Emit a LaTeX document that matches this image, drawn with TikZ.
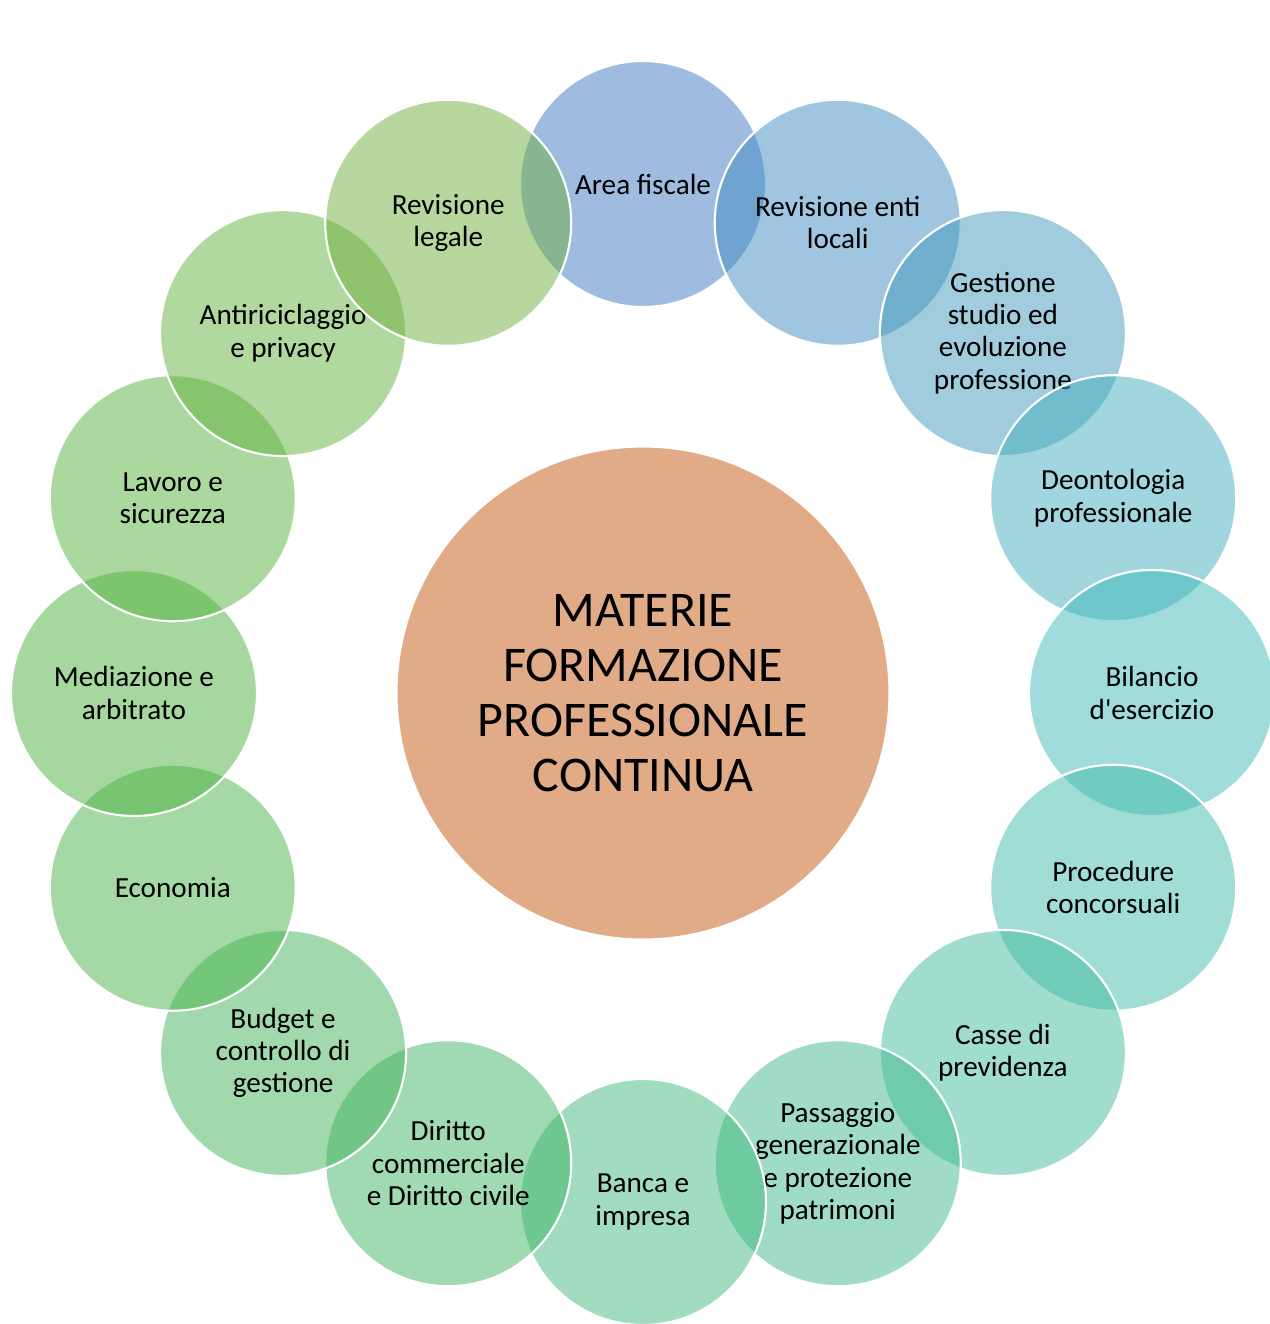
\documentclass[tikz,border=0pt]{standalone}
\usepackage{fontspec}
\setmainfont{Carlito}

\definecolor{centro}{RGB}{225,171,136}
\definecolor{col1}{RGB}{63,121,193}
\definecolor{col2}{RGB}{65,139,193}
\definecolor{col3}{RGB}{65,153,187}
\definecolor{col4}{RGB}{67,173,189}
\definecolor{col5}{RGB}{65,185,185}
\definecolor{col6}{RGB}{65,187,171}
\definecolor{col7}{RGB}{65,187,157}
\definecolor{col8}{RGB}{65,185,139}
\definecolor{col9}{RGB}{65,185,123}
\definecolor{col10}{RGB}{65,181,103}
\definecolor{col11}{RGB}{67,179,89}
\definecolor{col12}{RGB}{73,179,75}
\definecolor{col13}{RGB}{75,175,63}
\definecolor{col14}{RGB}{85,177,61}
\definecolor{col15}{RGB}{99,177,63}
\definecolor{col16}{RGB}{113,175,63}

\tikzset{
  materia/.style={circle,draw=white,line width=0.6pt,fill opacity=0.5,text opacity=1,
    minimum size=2.46cm,inner sep=0pt,align=center,font=\fontsize{8.3}{9.2}\selectfont},
  centrale/.style={circle,draw=white,line width=0.6pt,fill=centro,
    minimum size=4.93cm,inner sep=0pt,align=center,font=\fontsize{14.2}{15.6}\selectfont}
}

\begin{document}
\begin{tikzpicture}

      \useasboundingbox (-6.43,-6.31) rectangle (6.27,6.93);

      \node[centrale] (centro) at (0,0) {MATERIE\\FORMAZIONE\\PROFESSIONALE\\CONTINUA};

      \begin{scope}[every node/.style={materia}]
        \foreach \n/\txt in {1/{Area fiscale},
                             2/{Revisione enti\\locali},
                             3/{Gestione\\studio ed\\evoluzione\\professione},
                             4/{Deontologia\\professionale},
                             5/{Bilancio\\d\textquotesingle esercizio},
                             6/{Procedure\\concorsuali},
                             7/{Casse di\\previdenza},
                             8/{Passaggio\\generazionale\\e protezione\\patrimoni},
                             9/{Banca e\\impresa},
                             10/{Diritto\\commerciale\\e Diritto civile},
                             11/{Budget e\\controllo di\\gestione},
                             12/{Economia},
                             13/{Mediazione e\\arbitrato},
                             14/{Lavoro e\\sicurezza},
                             15/{Antiriciclaggio\\e privacy},
                             16/{Revisione\\legale}}{
          \pgfmathsetmacro{\ang}{112.5-22.5*\n}
          \node[fill=col\n] (materia\n) at (\ang:5.09) {\txt};
        }
      \end{scope}

    \end{tikzpicture}
\end{document}
